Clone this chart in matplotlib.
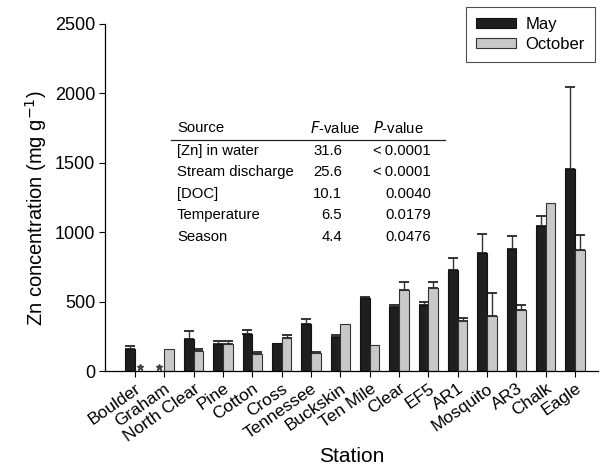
import numpy as np
import matplotlib
matplotlib.use("Agg")
import matplotlib.pyplot as plt
from matplotlib.patches import Patch

plt.rcParams['font.family'] = ['Liberation Sans', 'DejaVu Sans']

stations = ['Boulder', 'Graham', 'North Clear', 'Pine', 'Cotton', 'Cross', 'Tennessee',
            'Buckskin', 'Ten Mile', 'Clear', 'EF5', 'AR1', 'Mosquito', 'AR3', 'Chalk', 'Eagle']
may = [155, np.nan, 230, 195, 265, 200, 337, 245, 525, 462, 474, 725, 848, 881, 1042, 1452]
may_err = [25, 0, 55, 23, 27, 0, 40, 12, 10, 10, 20, 89, 138, 91, 72, 592]
october = [np.nan, 155, 145, 192, 125, 235, 130, 340, 187, 580, 600, 360, 397, 436, 1212, 874]
october_err = [0, 0, 15, 25, 15, 25, 10, 0, 0, 60, 43, 19, 163, 40, 0, 105]

table_rows = ['[Zn] in water', 'Stream discharge', '[DOC]', 'Temperature', 'Season']
f_values = ['31.6', '25.6', '10.1', '6.5', '4.4']
p_values = ['<\u20090.0001', '<\u20090.0001', '0.0040', '0.0179', '0.0476']

W, H = 601, 467
fig = plt.figure(figsize=(W / 100, H / 100), dpi=100)
ax = fig.add_axes([105 / W, 1 - 371 / H, (598 - 105) / W, (371 - 24) / H])

x = np.arange(len(stations))
bw = 0.33
black = '#1f1f1f'
grey = '#c8c8c8'
may_a = np.array(may, dtype=float)
oct_a = np.array(october, dtype=float)
ax.bar(x - bw / 2, np.nan_to_num(may_a), bw, color=black, edgecolor='#111111', linewidth=0.8, zorder=2)
ax.bar(x + bw / 2, np.nan_to_num(oct_a), bw, color=grey, edgecolor='#333333', linewidth=0.8, zorder=2)

me = np.array(may_err, dtype=float)
oe = np.array(october_err, dtype=float)
m = me > 0
ax.errorbar(x[m] - bw / 2, may_a[m], yerr=[np.zeros(m.sum()), me[m]], fmt='none',
            ecolor='#333333', elinewidth=1.0, capsize=3.5, capthick=1.4, zorder=1)
o = oe > 0
ax.errorbar(x[o] + bw / 2, oct_a[o], yerr=[np.zeros(o.sum()), oe[o]], fmt='none',
            ecolor='#333333', elinewidth=1.0, capsize=3.5, capthick=1.4, zorder=1)

# stars for missing samples
miss_may = np.isnan(may_a)
miss_oct = np.isnan(oct_a)
ax.plot(x[miss_may] - bw / 2, np.full(miss_may.sum(), 32), marker='*', ls='none',
        color='#444444', markersize=5, zorder=3, clip_on=False)
ax.plot(x[miss_oct] + bw / 2, np.full(miss_oct.sum(), 32), marker='*', ls='none',
        color='#444444', markersize=5, zorder=3, clip_on=False)

ax.set_xlim(-1.02, 15.78)
ax.set_ylim(0, 2500)
ax.set_yticks([0, 500, 1000, 1500, 2000, 2500])
ax.set_xticks(x)
ax.set_xticklabels(stations, rotation=35, ha='right', rotation_mode='anchor', fontsize=12.5)
ax.tick_params(axis='y', labelsize=13, length=4, width=0.8, direction='out', pad=3)
ax.tick_params(axis='x', length=4, width=0.8, direction='out', pad=3)
for s in ['top', 'right']:
    ax.spines[s].set_visible(False)
for s in ['left', 'bottom']:
    ax.spines[s].set_linewidth(0.9)
ax.set_ylabel('Zn concentration (mg g$^{-1}$)', fontsize=14.5)
ax.yaxis.set_label_coords(-0.113, 0.47)
ax.set_xlabel('Station', fontsize=15, labelpad=2)

handles = [Patch(facecolor=black, edgecolor='#111111', lw=0.8, label='May'),
           Patch(facecolor=grey, edgecolor='#333333', lw=0.8, label='October')]
leg = fig.legend(handles=handles, loc='upper right', bbox_to_anchor=(595 / W, 1 - 7 / H),
                 fontsize=12, frameon=True, fancybox=False, edgecolor='#222222',
                 handlelength=2.4, handleheight=0.55, borderpad=0.6, labelspacing=0.3,
                 handletextpad=0.55, borderaxespad=0)
leg.get_frame().set_linewidth(0.8)

# ANOVA table
def fx(px):
    return px / W

def fy(py):
    return 1 - py / H

fs = 10.7
fig.text(fx(177), fy(128), 'Source', fontsize=fs, va='center', ha='left')
fig.text(fx(310), fy(128), '$\\it{F}$-value', fontsize=fs, va='center', ha='left')
fig.text(fx(373), fy(128), '$\\it{P}$-value', fontsize=fs, va='center', ha='left')
fig.add_artist(plt.Line2D([fx(171), fx(445)], [fy(140), fy(140)], color='#222222', lw=0.9))
for i, (r, f, p) in enumerate(zip(table_rows, f_values, p_values)):
    yy = 151 + i * 21.4
    fig.text(fx(177), fy(yy), r, fontsize=fs, va='center', ha='left')
    fig.text(fx(342), fy(yy), f, fontsize=fs, va='center', ha='right')
    fig.text(fx(431), fy(yy), p, fontsize=fs, va='center', ha='right')

fig.savefig('out.png', dpi=100)
